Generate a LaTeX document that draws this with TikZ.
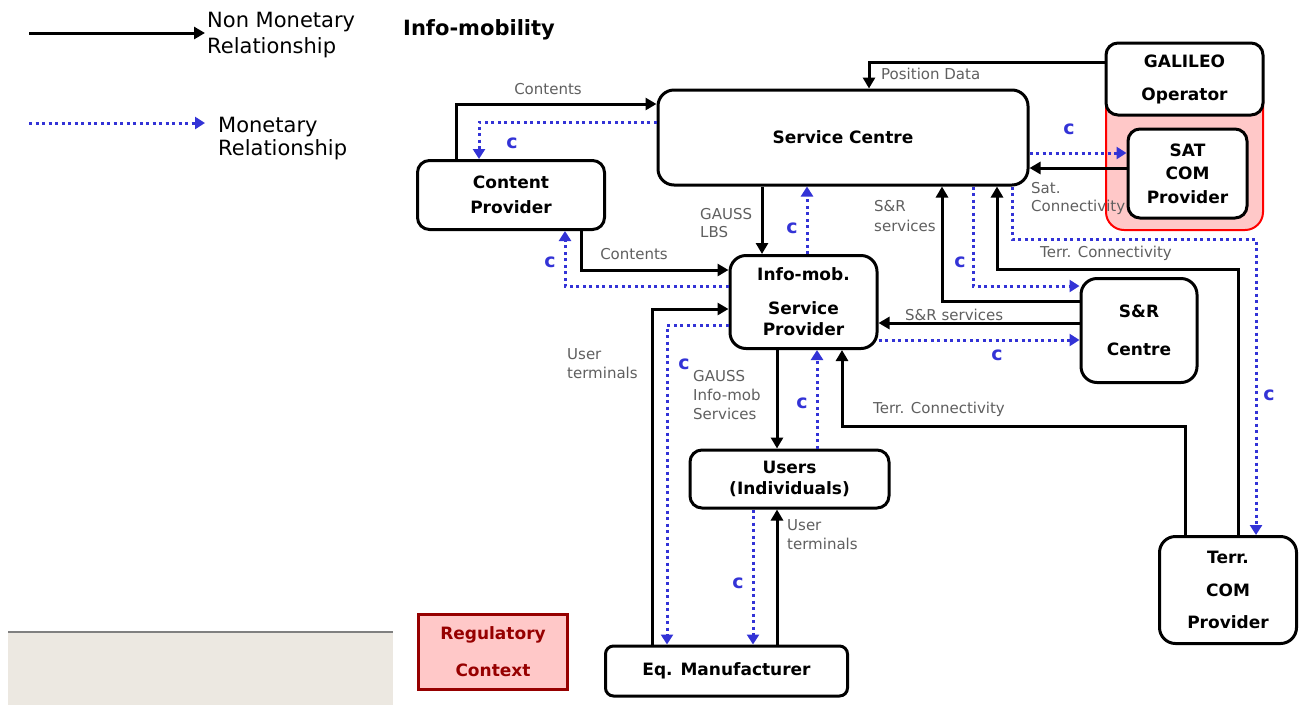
\documentclass[tikz,border=0pt]{standalone}
\usepackage{fontspec}
\setmainfont{DejaVu Sans}
\usetikzlibrary{arrows.meta}
\definecolor{mblue}{RGB}{51,51,214}
\definecolor{lblgray}{RGB}{95,95,95}
\definecolor{satpink}{RGB}{255,200,200}
\definecolor{regred}{RGB}{150,0,0}
\definecolor{stripfill}{RGB}{236,232,225}

\begin{document}
\begin{tikzpicture}[x=1pt,y=-1pt,
  box/.style={draw, line width=3pt, rounded corners=12pt, fill=white, align=center,
    inner sep=0pt, font=\fontsize{17}{21}\selectfont\bfseries},
  nm/.style={draw=black, line width=3pt, -{Triangle[length=11pt,width=12pt]}},
  mon/.style={draw=mblue, line width=3pt, dash pattern=on 3pt off 3.5pt,
    -{Triangle[length=10pt,width=12pt]}},
  lbl/.style={text=lblgray, font=\fontsize{15}{19}\selectfont, inner sep=0pt, align=left},
  cmark/.style={text=mblue, font=\fontsize{19}{19}\selectfont\bfseries, inner sep=0pt},
  legendtxt/.style={font=\fontsize{21}{26}\selectfont, inner sep=0pt, align=left, anchor=north west},
]
\useasboundingbox (0,0) rectangle (1300,705);

% legend
\coordinate (lgA0) at (29,33);
\coordinate (lgA1) at (205,33);
\coordinate (lgB0) at (29,123);
\coordinate (lgB1) at (205,123);
\draw[nm] (lgA0) -- (lgA1);
\draw[mon] (lgB0) -- (lgB1);
\node[legendtxt] (lgAtxt) at (207,12) {Non Monetary\\Relationship};
\node[legendtxt, font=\fontsize{21}{23}\selectfont] (lgBtxt) at (218,117) {Monetary\\Relationship};

% title
\node[anchor=west, inner sep=0pt, font=\fontsize{21}{21}\selectfont\bfseries] (title) at (403,30) {Info-mobility};

% bottom strip
\fill[stripfill] (8,632) rectangle (393,705);
\draw[gray, line width=1.5pt] (8,632) -- (393,632);

% satellite grouping
\filldraw[fill=satpink, draw=red, line width=2pt, rounded corners=18pt]
  (1106,100) -- (1106,230) -- (1263,230) -- (1263,100);

% boxes
\node[box, minimum width=157pt, minimum height=72pt] (galileo) at (1184.5,79) {GALILEO\\[12pt]Operator};
\node[box, minimum width=119pt, minimum height=89pt] (satcom) at (1187.5,173.5) {SAT\\[2.5pt]COM\\[2.5pt]Provider};
\node[box, minimum width=370pt, minimum height=95pt, rounded corners=16pt] (sc) at (843,137.5) {Service Centre};
\node[box, minimum width=187pt, minimum height=69pt] (cp) at (511,195) {Content\\[4pt]Provider};
\node[box, minimum width=147pt, minimum height=93pt, rounded corners=16pt] (ismp) at (803.5,302) {Info-mob.\\[13pt]Service\\Provider};
\node[box, minimum width=116pt, minimum height=104pt, rounded corners=16pt] (sar) at (1139,330.5) {S\&R\\[17pt]Centre};
\node[box, minimum width=199pt, minimum height=58pt] (users) at (789.5,479) {Users\\(Individuals)};
\node[box, minimum width=137pt, minimum height=107pt, rounded corners=16pt] (terr) at (1228,590) {Terr.\\[11.5pt]COM\\[11.5pt]Provider};
\node[box, minimum width=242pt, minimum height=50pt, rounded corners=8pt] (eqm) at (726.5,671) {Eq. Manufacturer};
\node[draw=regred, fill=satpink, line width=2.5pt, text=regred, align=center, inner sep=0pt,
  font=\fontsize{17}{21}\selectfont\bfseries, minimum width=149pt, minimum height=75pt]
  (reg) at (493,652) {Regulatory\\[16pt]Context};

% Service Centre <-> Content Provider
\draw[nm] (cp.north -| 456,0) |- (sc.west |- 0,104);
\node[lbl, anchor=center] (lContents1) at (548,89) {Contents};
\draw[mon] (sc.west |- 0,122) -| (cp.north -| 479,0);
\node[cmark] (c1) at (512,143) {c};

% GALILEO -> Service Centre
\draw[nm] (galileo.west |- 0,62) -| (sc.north -| 869,0);
\node[lbl, anchor=west] (lPos) at (881,74) {Position Data};

% Service Centre <-> SAT COM
\draw[mon] (sc.east |- 0,153) -- (satcom.west |- 0,153);
\node[cmark] (c2) at (1069,129) {c};
\draw[nm] (satcom.west |- 0,168) -- (sc.east |- 0,168);
\node[lbl, anchor=north west, font=\fontsize{15}{18}\selectfont] (lSat) at (1031,182) {Sat.\\Connectivity};

% Service Centre <-> Info-mob. Service Provider
\draw[nm] (sc.south -| 762,0) -- (ismp.north -| 762,0);
\node[lbl, anchor=north west, font=\fontsize{15}{18}\selectfont] (lLBS) at (700,208) {GAUSS\\LBS};
\draw[mon] (ismp.north -| 807,0) -- (sc.south -| 807,0);
\node[cmark] (c3) at (792,228) {c};

% Service Centre <-> S&R Centre
\draw[nm] (sar.west |- 0,301) -| (sc.south -| 942,0);
\node[lbl, anchor=north west, font=\fontsize{15}{20}\selectfont] (lSR1) at (874,200) {S\&R\\services};
\draw[mon] (sc.south -| 973,0) |- (sar.west |- 0,286);
\node[cmark] (c4) at (960,262) {c};

% Service Centre <-> Terr. COM Provider
\draw[nm] (terr.north -| 1238,0) |- (1100,269) -| (sc.south -| 997,0);
\node[lbl, anchor=center] (lTerr1) at (1106,253) {Terr. Connectivity};
\draw[mon] (sc.south -| 1012,0) |- (1100,239) -| (terr.north -| 1256,0);
\node[cmark] (c5) at (1269,395) {c};

% Content Provider <-> Info-mob. Service Provider
\draw[nm] (cp.south -| 581,0) |- (ismp.west |- 0,270);
\node[lbl, anchor=center] (lContents2) at (634,254) {Contents};
\draw[mon] (ismp.west |- 0,286) -| (cp.south -| 565,0);
\node[cmark] (c6) at (550,262) {c};

% Eq. Manufacturer <-> Info-mob. Service Provider
\draw[nm] (eqm.north -| 652,0) |- (ismp.west |- 0,309);
\node[lbl, anchor=north west] (lUT1) at (567,348) {User\\terminals};
\draw[mon] (ismp.west |- 0,325) -| (eqm.north -| 667,0);
\node[cmark] (c7) at (684,364) {c};

% S&R Centre <-> Info-mob. Service Provider
\draw[nm] (sar.west |- 0,323) -- (ismp.east |- 0,323);
\node[lbl, anchor=west] (lSR2) at (905,315) {S\&R services};
\draw[mon] (ismp.east |- 0,340) -- (sar.west |- 0,340);
\node[cmark] (c8) at (997,355) {c};

% Terr. COM Provider -> Info-mob. Service Provider
\draw[nm] (terr.north -| 1185,0) |- (900,426) -| (ismp.south -| 842,0);
\node[lbl, anchor=west] (lTerr2) at (873,409) {Terr. Connectivity};

% Info-mob. Service Provider <-> Users
\draw[nm] (ismp.south -| 777,0) -- (users.north -| 777,0);
\node[lbl, anchor=north west] (lGIS) at (693,370) {GAUSS\\Info-mob\\Services};
\draw[mon] (users.north -| 817,0) -- (ismp.south -| 817,0);
\node[cmark] (c9) at (802,403) {c};

% Users <-> Eq. Manufacturer
\draw[mon] (users.south -| 753,0) -- (eqm.north -| 753,0);
\node[cmark] (c10) at (738,583) {c};
\draw[nm] (eqm.north -| 777,0) -- (users.south -| 777,0);
\node[lbl, anchor=north west] (lUT2) at (787,519) {User\\terminals};

\end{tikzpicture}
\end{document}
